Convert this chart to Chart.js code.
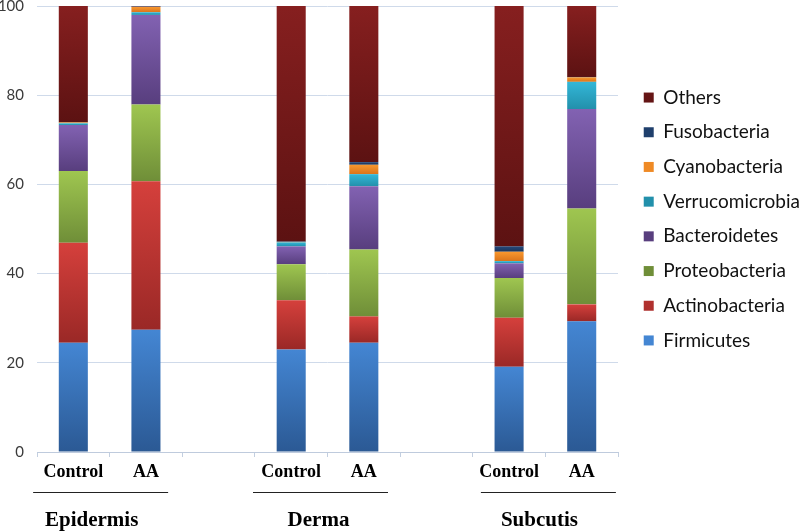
<!DOCTYPE html>
<html>
<head>
<meta charset="utf-8">
<script src="https://cdn.jsdelivr.net/npm/chart.js@4"></script>
<style>
  html, body { margin: 0; padding: 0; background: #fff; }
  #wrap { width: 800px; height: 532px; }
</style>
</head>
<body>
<div id="wrap"><canvas id="myChart"></canvas></div>
<script>
// categories (blank slots separate the tissue groups)
const labels = ['Control', 'AA', '', 'Control', 'AA', '', 'Control', 'AA'];
const groups = ['Epidermis', 'Derma', 'Subcutis'];
const groupIndex = [[0, 1], [3, 4], [6, 7]];
const yTicks = [0, 20, 40, 60, 80, 100];

// relative abundance (%) per phylum
const firmicutes      = [24.5, 27.4, null, 23.0, 24.5, null, 19.1, 29.3];
const actinobacteria  = [22.4, 33.3, null, 11.0,  5.9, null, 11.0,  3.8];
const proteobacteria  = [16.1, 17.2, null,  8.1, 15.0, null,  8.9, 21.5];
const bacteroidetes   = [10.3, 20.1, null,  4.0, 14.2, null,  3.3, 22.3];
const verrucomicrobia = [ 0.4,  0.6, null,  0.9,  2.7, null,  0.5,  6.1];
const cyanobacteria   = [ 0.2,  1.2, null,  0.1,  2.1, null,  2.1,  1.0];
const fusobacteria    = [ 0.1,  0.1, null,  0.1,  0.6, null,  1.2,  0.1];
const others          = [26.0,  0.1, null, 52.8, 35.0, null, 53.9, 15.9];

const names = ['Firmicutes', 'Actinobacteria', 'Proteobacteria', 'Bacteroidetes',
               'Verrucomicrobia', 'Cyanobacteria', 'Fusobacteria', 'Others'];
const series = [firmicutes, actinobacteria, proteobacteria, bacteroidetes,
                verrucomicrobia, cyanobacteria, fusobacteria, others];

// [top, bottom, legend] colours
const colors = [
  ['#4486d3', '#2b5994', '#3a74bd'],
  ['#d5403c', '#9a2826', '#c1393a'],
  ['#9fc650', '#6f8e38', '#8aad45'],
  ['#8262b2', '#583e7e', '#7052a0'],
  ['#33b7d8', '#2290ab', '#2ba6c6'],
  ['#f8982f', '#db741a', '#ef8a25'],
  ['#26497c', '#19345b', '#1f3f6c'],
  ['#861f1f', '#5c1212', '#761a1a']
];

function shade(i) {
  return function (c) {
    const [light, dark, flat] = colors[i];
    if (c.type !== 'data') return flat;
    const y = c.chart.scales.y;
    const v = series[i][c.dataIndex];
    if (!y || v == null) return flat;
    let base = 0;
    for (let k = 0; k < i; k++) base += series[k][c.dataIndex] || 0;
    const top = y.getPixelForValue(base + v);
    const bottom = y.getPixelForValue(base);
    if (!isFinite(top) || !isFinite(bottom) || bottom - top < 1) return flat;
    const g = c.chart.ctx.createLinearGradient(0, top, 0, bottom);
    g.addColorStop(0, light);
    g.addColorStop(1, dark);
    return g;
  };
}

// tissue names under the x axis
const groupLabels = {
  id: 'groupLabels',
  afterDraw(chart) {
    const {ctx, chartArea} = chart;
    const x = chart.scales.x;
    const lineNudge = [-9, -7, 3];
    const textNudge = [-18, -9, -6];
    ctx.save();
    groupIndex.forEach((pair, g) => {
      const mid = (x.getPixelForValue(pair[0]) + x.getPixelForValue(pair[1])) / 2;
      const ly = chartArea.bottom + 40;
      ctx.strokeStyle = '#222';
      ctx.lineWidth = 1;
      ctx.beginPath();
      ctx.moveTo(mid + lineNudge[g] - 67.5, ly + 0.5);
      ctx.lineTo(mid + lineNudge[g] + 67.5, ly + 0.5);
      ctx.stroke();
      ctx.fillStyle = '#000';
      ctx.font = 'bold 21px "Liberation Serif"';
      ctx.textAlign = 'center';
      ctx.textBaseline = 'alphabetic';
      ctx.fillText(groups[g], mid + textNudge[g], chartArea.bottom + 74);
    });
    ctx.restore();
  }
};

// nudge legend to where it sits in the figure
const legendShift = {
  id: 'legendShift',
  afterLayout(chart) {
    const l = chart.legend;
    l.left += 10; l.right += 10;
    l.top -= 50; l.bottom -= 50;
  }
};

const ctx = document.getElementById('myChart');

new Chart(ctx, {
  type: 'bar',
  data: {
    labels: labels,
    datasets: series.map((d, i) => ({
      label: names[i],
      data: d,
      backgroundColor: shade(i),
      borderWidth: 0,
      barPercentage: 0.4,
      categoryPercentage: 1
    }))
  },
  options: {
    responsive: true,
    maintainAspectRatio: false,
    animation: false,
    layout: { padding: { top: 6 } },
    plugins: {
      tooltip: { enabled: false },
      legend: {
        position: 'right',
        reverse: true,
        labels: {
          boxWidth: 10,
          boxHeight: 10,
          padding: 15.7,
          color: '#111',
          font: { family: 'Lato', size: 19 }
        }
      }
    },
    scales: {
      x: {
        stacked: true,
        afterFit(s) { s.height = 80; },
        grid: {
          offset: true,
          drawOnChartArea: false,
          tickLength: 5,
          color: '#c3cfe0'
        },
        border: { color: '#bfcbdd' },
        ticks: {
          padding: 5,
          color: '#000',
          font: { family: 'Liberation Serif', size: 18, weight: 'bold' }
        }
      },
      y: {
        stacked: true,
        min: 0,
        max: 100,
        afterFit(s) { s.width = 37; s.paddingTop = 6; },
        afterBuildTicks(s) { s.ticks = yTicks.map(v => ({value: v})); },
        grid: { color: '#cfdaea', drawTicks: false },
        border: { display: false },
        ticks: {
          padding: 13,
          color: '#3a3a3a',
          font: { family: 'Lato', size: 15 }
        }
      }
    }
  },
  plugins: [groupLabels, legendShift]
});
</script>
</body>
</html>
